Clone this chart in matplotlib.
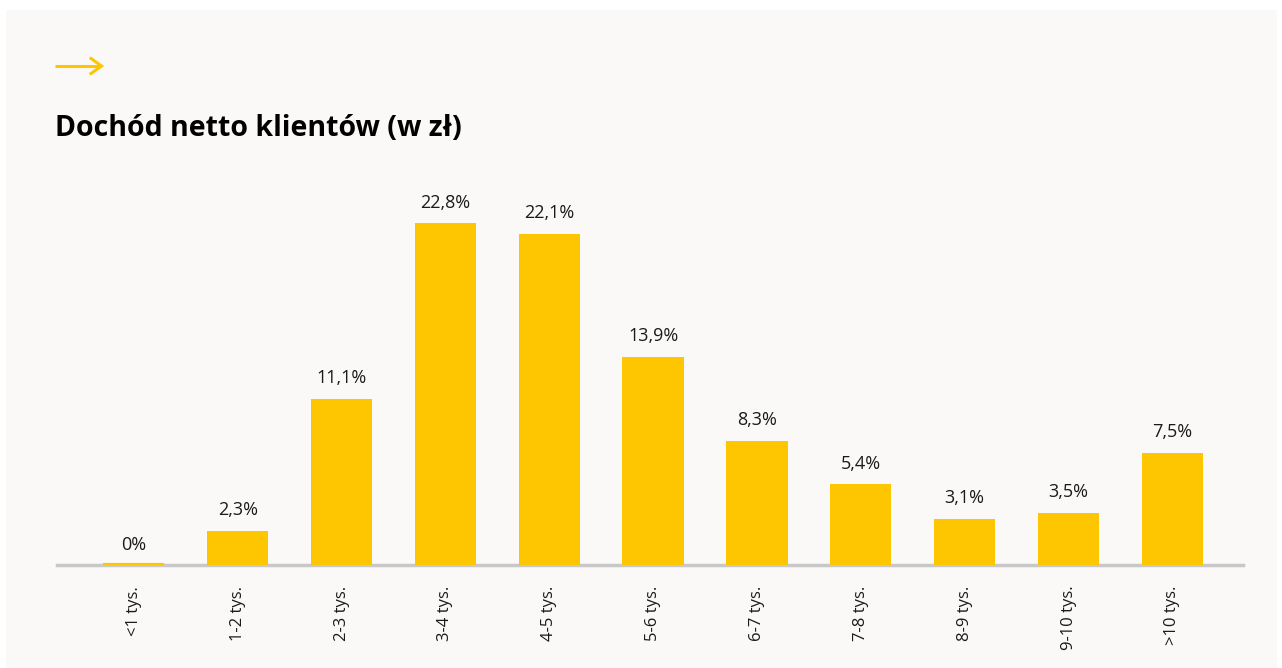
import matplotlib.pyplot as plt
from matplotlib.patches import Rectangle

kategorie = ["<1 tys.", "1-2 tys.", "2-3 tys.", "3-4 tys.", "4-5 tys.", "5-6 tys.",
             "6-7 tys.", "7-8 tys.", "8-9 tys.", "9-10 tys.", ">10 tys."]
udzial = [0, 2.3, 11.1, 22.8, 22.1, 13.9, 8.3, 5.4, 3.1, 3.5, 7.5]
etykiety = ["0%", "2,3%", "11,1%", "22,8%", "22,1%", "13,9%",
            "8,3%", "5,4%", "3,1%", "3,5%", "7,5%"]

zolty = "#fec600"
tlo = "#faf9f7"

plt.rcParams['font.family'] = ['Open Sans', 'DejaVu Sans']

W, H = 1282, 668
fig = plt.figure(figsize=(W / 100, H / 100), dpi=100)
fig.patch.set_facecolor("white")

# jasne tlo karty
fig.add_artist(Rectangle((6 / W, 0), (1277 - 6) / W, (H - 10) / H,
                         transform=fig.transFigure, facecolor=tlo,
                         edgecolor="none", zorder=-5))

# strzalka nad tytulem
fig.add_artist(plt.Line2D([55 / W, 101 / W], [1 - 66 / H, 1 - 66 / H],
                          color=zolty, lw=2.2, solid_capstyle="butt"))
fig.add_artist(plt.Line2D([91 / W, 101.5 / W, 91 / W],
                          [1 - 58.5 / H, 1 - 66 / H, 1 - 73.5 / H],
                          color=zolty, lw=2.2, solid_joinstyle="miter"))

fig.text(55 / W, 1 - 128 / H, "Dochód netto klientów (w zł)", fontsize=20.5,
         fontweight="bold", color="black", va="center", ha="left")

# os wykresu: dol = linia bazowa, 15 px na 1%
baza = 565
gora = 180
ax = fig.add_axes([57 / W, (H - baza) / H, (1243 - 57) / W, (baza - gora) / H])
ax.set_zorder(2)
ax.set_facecolor("none")
x = list(range(len(kategorie)))
# zerowy slupek widoczny jako cienka kreska
grubosc = [3 if v == 0 else 0 for v in udzial]
ax.bar(x, udzial, width=0.59, color=zolty, edgecolor=zolty, linewidth=grubosc, zorder=4)
ax.set_xlim(-0.74, 10.68)
ax.set_ylim(0, (baza - gora) / 15.0)

for xi, v, t in zip(x, udzial, etykiety):
    ax.annotate(t, (xi, v), xytext=(0, 8), textcoords="offset points",
                ha="center", va="bottom", fontsize=13, color="#1a1a1a")

for s in ["top", "right", "left"]:
    ax.spines[s].set_visible(False)
ax.spines["bottom"].set_color("#c8c8c8")
ax.spines["bottom"].set_linewidth(2.5)
ax.spines["bottom"].set_zorder(3)
ax.set_yticks([])
ax.set_xticks(x)
ax.set_xticklabels(kategorie, rotation=90, fontsize=12, color="#1a1a1a")
ax.tick_params(axis="x", length=0, pad=15)

fig.savefig("out.png", dpi=100, facecolor=fig.get_facecolor())
